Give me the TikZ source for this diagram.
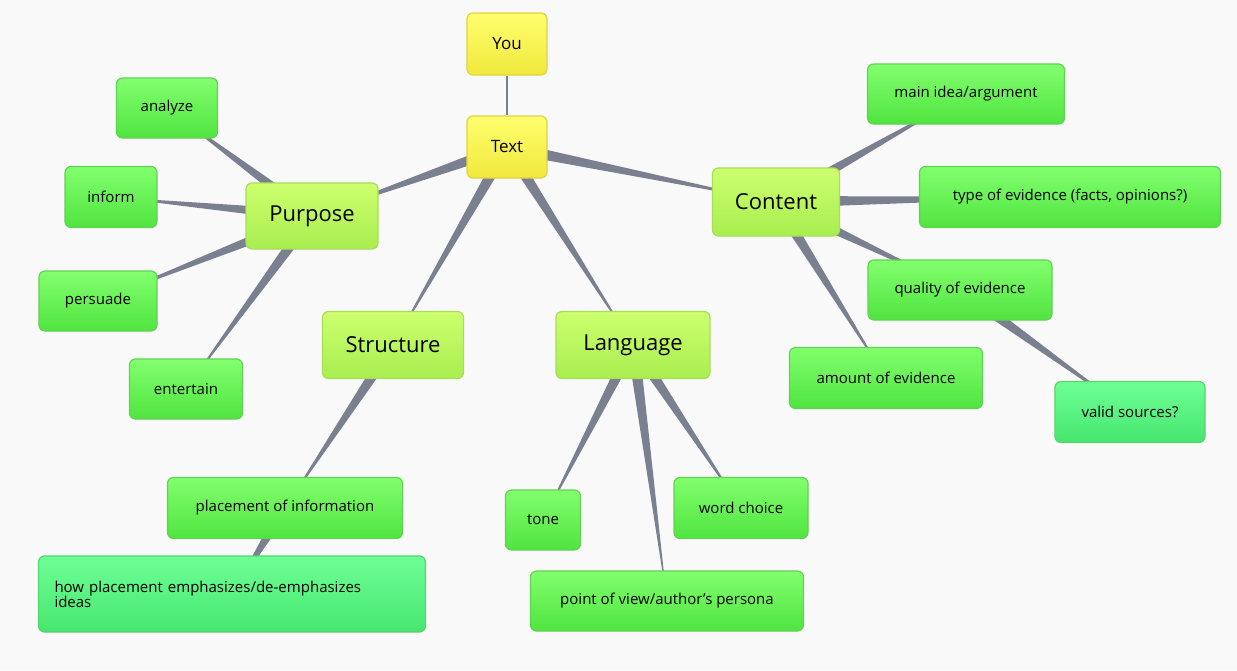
\documentclass[tikz,border=0pt]{standalone}
\usepackage{fontspec}
\setmainfont{Open Sans}
\usetikzlibrary{calc,backgrounds}
\definecolor{bg}{HTML}{F9F9F9}
\definecolor{wedge}{HTML}{7A8090}
\tikzset{
 x=1pt,y=-1pt,
 box/.style={draw,rounded corners=6pt,line width=1.2pt,align=center,inner sep=0pt,font=\fontsize{15}{17}\selectfont},
 leaf/.style={box,top color={rgb,255:red,130;green,255;blue,110},bottom color={rgb,255:red,80;green,228;blue,64},draw={rgb,255:red,96;green,210;blue,84}},
 teal/.style={box,top color={rgb,255:red,110;green,255;blue,150},bottom color={rgb,255:red,70;green,230;blue,110},draw={rgb,255:red,90;green,210;blue,110}},
 main/.style={box,font=\fontsize{22}{26}\selectfont,top color={rgb,255:red,205;green,255;blue,110},bottom color={rgb,255:red,168;green,238;blue,80},draw={rgb,255:red,170;green,220;blue,90}},
 yel/.style={box,font=\fontsize{17}{20}\selectfont,top color={rgb,255:red,255;green,255;blue,110},bottom color={rgb,255:red,240;green,232;blue,60},draw={rgb,255:red,225;green,210;blue,70}},
}
\newcommand{\wdg}[2]{\fill[wedge] (#2.center) -- ($(#1.center)!6pt!90:(#2.center)$) -- ($(#1.center)!6pt!-90:(#2.center)$) -- cycle;}
\begin{document}
\begin{tikzpicture}
\useasboundingbox (0,0) rectangle (1237,670);
\node[yel,minimum width=80,minimum height=62] (you) at (507,44) {You};
\node[yel,minimum width=80,minimum height=62] (text) at (507,147) {Text};
\node[main,minimum width=132,minimum height=66] (purpose) at (312,216) {Purpose};
\node[main,minimum width=141,minimum height=67] (structure) at (393,345) {Structure};
\node[main,minimum width=154,minimum height=67] (language) at (633,345) {Language};
\node[main,minimum width=127,minimum height=68] (content) at (776,202) {Content};
\node[leaf,minimum width=101,minimum height=60] (analyze) at (167,108) {analyze};
\node[leaf,minimum width=92,minimum height=61] (inform) at (111,197) {inform};
\node[leaf,minimum width=118,minimum height=60] (persuade) at (98,301) {persuade};
\node[leaf,minimum width=113,minimum height=60] (entertain) at (186,389) {entertain};
\node[leaf,minimum width=197,minimum height=60] (mainidea) at (966,94) {main idea/argument};
\node[leaf,minimum width=301,minimum height=61] (type) at (1070,197) {type of evidence (facts, opinions?)};
\node[leaf,minimum width=184,minimum height=60] (quality) at (960,290) {quality of evidence};
\node[leaf,minimum width=193,minimum height=61] (amount) at (886,378) {amount of evidence};
\node[teal,minimum width=150,minimum height=61] (valid) at (1130,412) {valid sources?};
\node[leaf,minimum width=235,minimum height=61] (placement) at (285,508) {placement of information};
\node[teal,minimum width=387,minimum height=76,text width=355,align=left,font=\fontsize{15}{15}\selectfont] (how) at (232,594) {how placement emphasizes/de-emphasizes\\ideas};
\node[leaf,minimum width=75,minimum height=60] (tone) at (543,520) {tone};
\node[leaf,minimum width=134,minimum height=61] (word) at (741,508) {word choice};
\node[leaf,minimum width=273,minimum height=60] (pov) at (667,601) {point of view/author's persona};
\begin{scope}[on background layer]
\fill[bg] (0,0) rectangle (1237,670);
\draw[wedge,line width=2pt] (text) -- (you);
\wdg{text}{purpose}\wdg{text}{structure}\wdg{text}{language}\wdg{text}{content}
\wdg{purpose}{analyze}\wdg{purpose}{inform}\wdg{purpose}{persuade}\wdg{purpose}{entertain}
\wdg{content}{mainidea}\wdg{content}{type}\wdg{content}{quality}\wdg{content}{amount}
\wdg{quality}{valid}\wdg{structure}{placement}\wdg{placement}{how}
\wdg{language}{tone}\wdg{language}{pov}\wdg{language}{word}
\end{scope}
\end{tikzpicture}
\end{document}
